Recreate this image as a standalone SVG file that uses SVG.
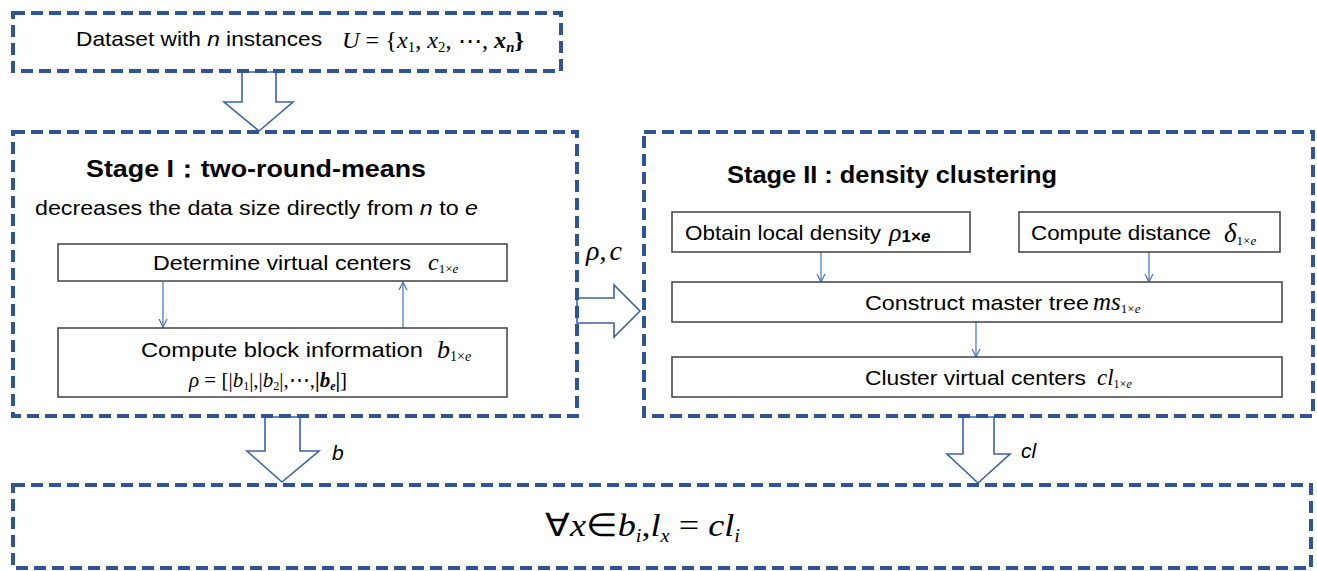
<svg xmlns="http://www.w3.org/2000/svg" width="1317" height="571" viewBox="0 0 1317 571">
<style>
.frame{fill:none;stroke:#2F5597;stroke-width:4;stroke-dasharray:12 6;}
.box{fill:#fff;stroke:#404040;stroke-width:1.5;}
.hollow{fill:#fff;stroke:#3D62A6;stroke-width:1.6;stroke-linejoin:miter;}
.thin{fill:none;stroke:#4472C4;stroke-width:1.2;marker-end:url(#v);}
.t{font-family:"Liberation Sans",Arial,sans-serif;font-size:21px;fill:#000;}
.title{font-family:"Liberation Sans",Arial,sans-serif;font-size:24px;font-weight:bold;fill:#000;}
.m{font-family:"Liberation Serif","Times New Roman",serif;font-style:italic;fill:#000;}
.up{font-style:normal;}
.it{font-style:italic;}
</style>
<defs>
<marker id="v" viewBox="0 0 10 10" refX="9" refY="5" markerWidth="10" markerHeight="10" markerUnits="userSpaceOnUse" orient="auto">
<path d="M1,1 L9,5 L1,9" fill="none" stroke="#4472C4" stroke-width="1.2"/>
</marker>
</defs>
<rect width="1317" height="571" fill="#fff"/>

<g id="connectors">
<polygon class="hollow" points="242,72 276,72 276,102 293,102 259,131 224,102 242,102"/>
<polygon class="hollow" points="577,298 614,298 614,285 640,311 614,337 614,323 577,323"/>
<polygon class="hollow" points="265,417 300,417 300,451 319,451 282,482 247,451 265,451"/>
<polygon class="hollow" points="963,417 994,417 994,454 1010,454 978,483 947,454 963,454"/>
<line class="thin" x1="163" y1="282" x2="163" y2="327"/>
<line class="thin" x1="403" y1="328" x2="403" y2="282"/>
<line class="thin" x1="821" y1="252" x2="821" y2="282"/>
<line class="thin" x1="1149" y1="252" x2="1149" y2="282"/>
<line class="thin" x1="976" y1="322" x2="976" y2="357"/>
<text class="m" x="586" y="260" font-size="28">ρ<tspan class="up">,</tspan><tspan dx="3">c</tspan></text>
<text class="t it" x="332" y="460" font-size="24">b</text>
<text class="t it" x="1021" y="458" font-size="24">cl</text>
</g>

<g id="dataset">
<rect class="frame" x="13" y="13" width="548" height="58"/>
<text class="t" x="76" y="46" textLength="246" lengthAdjust="spacingAndGlyphs">Dataset with <tspan class="it">n</tspan> instances</text>
<text class="m" x="342" y="48" font-size="23" textLength="182" lengthAdjust="spacingAndGlyphs"><tspan>U</tspan><tspan class="up"> = {</tspan><tspan>x</tspan><tspan class="up" font-size="14" dy="4">1</tspan><tspan class="up" dy="-4">, </tspan><tspan>x</tspan><tspan class="up" font-size="14" dy="4">2</tspan><tspan class="up" dy="-4">, ⋯, </tspan><tspan font-weight="bold">x</tspan><tspan font-weight="bold" font-size="14" dy="4">n</tspan><tspan class="up" font-weight="bold" dy="-4">}</tspan></text>
</g>

<g id="stage1">
<rect class="frame" x="13" y="132" width="564" height="284"/>
<text class="title" x="86" y="177" textLength="340" lengthAdjust="spacingAndGlyphs">Stage I：two-round-means</text>
<text class="t" x="35" y="215" textLength="443" lengthAdjust="spacingAndGlyphs">decreases the data size directly from <tspan class="it">n</tspan> to <tspan class="it">e</tspan></text>
</g>

<g id="determine">
<rect class="box" x="58" y="244" width="449" height="37"/>
<text class="t" x="153" y="270" textLength="258" lengthAdjust="spacingAndGlyphs">Determine virtual centers</text>
<text class="m" x="428" y="270" font-size="24">c<tspan class="up" font-size="13" dy="3">1×</tspan><tspan font-size="13">e</tspan></text>
</g>

<g id="block">
<rect class="box" x="58" y="328" width="449" height="69"/>
<text class="t" x="141" y="357" textLength="282" lengthAdjust="spacingAndGlyphs">Compute block information</text>
<text class="m" x="437" y="358" font-size="26">b<tspan class="up" font-size="14" dy="3">1×</tspan><tspan font-size="14">e</tspan></text>
<text class="m" x="189" y="387" font-size="21">ρ<tspan class="up"> = [|</tspan>b<tspan class="up" font-size="12" dy="3">1</tspan><tspan class="up" dy="-3">|,|</tspan>b<tspan class="up" font-size="12" dy="3">2</tspan><tspan class="up" dy="-3">|,⋯,</tspan><tspan class="up" font-weight="bold">|</tspan><tspan font-weight="bold">b</tspan><tspan font-weight="bold" font-size="12" dy="3">e</tspan><tspan class="up" font-weight="bold" dy="-3">|</tspan><tspan class="up">]</tspan></text>
</g>

<g id="stage2">
<rect class="frame" x="644" y="132" width="669" height="284"/>
<text class="title" x="727" y="183" textLength="330" lengthAdjust="spacingAndGlyphs">Stage II : density clustering</text>
</g>

<g id="density">
<rect class="box" x="672" y="212" width="298" height="40"/>
<text class="t" x="685" y="240" textLength="196" lengthAdjust="spacingAndGlyphs">Obtain local density</text>
<text class="m" x="889" y="241" font-size="26">ρ<tspan class="up" font-family="Liberation Sans,Arial,sans-serif" font-weight="bold" font-size="17" dy="1">1×</tspan><tspan font-family="Liberation Sans,Arial,sans-serif" font-weight="bold" font-size="17">e</tspan></text>
</g>

<g id="distance">
<rect class="box" x="1019" y="212" width="261" height="40"/>
<text class="t" x="1031" y="240" textLength="180" lengthAdjust="spacingAndGlyphs">Compute distance</text>
<text class="m" x="1224" y="242" font-size="27">δ<tspan class="up" font-size="13" dy="3">1×</tspan><tspan font-size="13">e</tspan></text>
</g>

<g id="mastertree">
<rect class="box" x="672" y="282" width="610" height="40"/>
<text class="t" x="865" y="310" textLength="224" lengthAdjust="spacingAndGlyphs">Construct master tree</text>
<text class="m" x="1093" y="310" font-size="25">ms<tspan class="up" font-size="13" dy="3">1×</tspan><tspan font-size="13">e</tspan></text>
</g>

<g id="cluster">
<rect class="box" x="672" y="357" width="610" height="40"/>
<text class="t" x="865" y="385" textLength="221" lengthAdjust="spacingAndGlyphs">Cluster virtual centers</text>
<text class="m" x="1097" y="385" font-size="23">cl<tspan class="up" font-size="12" dy="3">1×</tspan><tspan font-size="12">e</tspan></text>
</g>

<g id="result">
<rect class="frame" x="13" y="485" width="1298" height="83"/>
<text class="m" x="545" y="536" font-size="32" textLength="195" lengthAdjust="spacingAndGlyphs"><tspan class="up">∀</tspan>x<tspan class="up">∈</tspan>b<tspan font-size="18" dy="6">i</tspan><tspan class="up" dy="-6">,</tspan>l<tspan font-size="18" dy="6">x</tspan><tspan class="up" dy="-6"> = </tspan>cl<tspan font-size="18" dy="6">i</tspan></text>
</g>
</svg>
